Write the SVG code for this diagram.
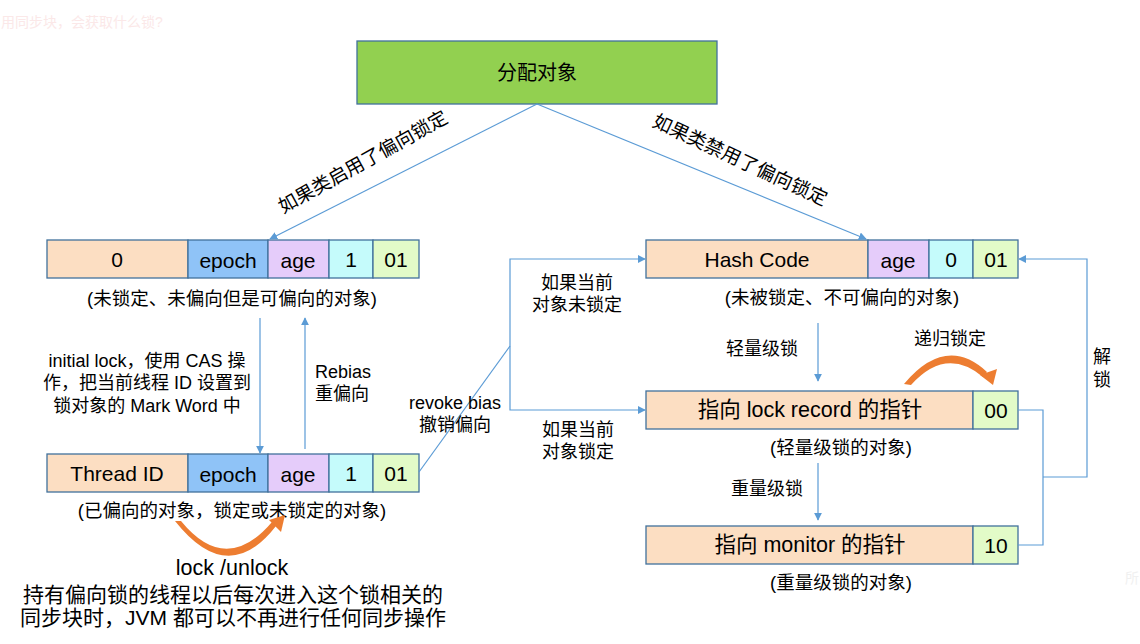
<svg xmlns="http://www.w3.org/2000/svg" width="1140" height="644" viewBox="0 0 1140 644">
<defs>
<style>
text{font-family:"Liberation Sans","Noto Sans CJK SC",sans-serif;fill:#000;text-anchor:middle;dominant-baseline:central}
.cell{stroke:#41719C;stroke-width:1.3}
.peach{fill:#FCDEC2}.blue{fill:#8FC3F7}.lav{fill:#E5CCFA}.cyan{fill:#C5FBFB}.lg{fill:#E2FBC8}
.ct{font-size:21px}
.lb{font-size:18.5px}
.sm{font-size:18px}
.con{fill:none;stroke:#5B9BD5;stroke-width:1.2}
.orange{fill:#ED7D31}
</style>
<marker id="ah" viewBox="0 0 10 10" refX="9" refY="5" markerWidth="8" markerHeight="8" markerUnits="userSpaceOnUse" orient="auto">
<path d="M0,0 L10,5 L0,10 z" fill="#5B9BD5"/>
</marker>
</defs>
<rect width="1140" height="644" fill="#fff"/>
<text x="1" y="22" style="font-size:14px;fill:#FBE8E8;text-anchor:start">用同步块，会获取什么锁?</text>
<text x="1132" y="578" style="font-size:14px;fill:#F0F0F0">所</text>

<g id="alloc">
<rect class="cell" x="357" y="41" width="360" height="63" fill="#92D050"/>
<text x="537" y="73" style="font-size:20px">分配对象</text>
</g>

<g id="unlocked-biasable">
<rect class="cell peach" x="47" y="240" width="141" height="38"/>
<rect class="cell blue" x="188" y="240" width="80" height="38"/>
<rect class="cell lav" x="268" y="240" width="61" height="38"/>
<rect class="cell cyan" x="329" y="240" width="44" height="38"/>
<rect class="cell lg" x="373" y="240" width="46" height="38"/>
<text class="ct" x="117" y="259">0</text>
<text class="ct" x="228" y="260">epoch</text>
<text class="ct" x="298" y="260">age</text>
<text class="ct" x="351" y="259">1</text>
<text class="ct" x="396" y="259">01</text>
<text class="lb" x="232" y="298">(未锁定、未偏向但是可偏向的对象)</text>
</g>

<g id="biased">
<rect class="cell peach" x="47" y="454" width="141" height="38"/>
<rect class="cell blue" x="188" y="454" width="80" height="38"/>
<rect class="cell lav" x="268" y="454" width="61" height="38"/>
<rect class="cell cyan" x="329" y="454" width="44" height="38"/>
<rect class="cell lg" x="373" y="454" width="46" height="38"/>
<text class="ct" x="117" y="473">Thread ID</text>
<text class="ct" x="228" y="474">epoch</text>
<text class="ct" x="298" y="474">age</text>
<text class="ct" x="351" y="473">1</text>
<text class="ct" x="396" y="473">01</text>
<text class="lb" x="232" y="510">(已偏向的对象，锁定或未锁定的对象)</text>
</g>

<g id="unbiasable">
<rect class="cell peach" x="646" y="240" width="222" height="38"/>
<rect class="cell lav" x="868" y="240" width="61" height="38"/>
<rect class="cell cyan" x="929" y="240" width="44" height="38"/>
<rect class="cell lg" x="973" y="240" width="45" height="38"/>
<text class="ct" x="757" y="259">Hash Code</text>
<text class="ct" x="898" y="260">age</text>
<text class="ct" x="951" y="259">0</text>
<text class="ct" x="996" y="259">01</text>
<text class="lb" x="842" y="297">(未被锁定、不可偏向的对象)</text>
</g>

<g id="lightweight">
<rect class="cell peach" x="646" y="391" width="327" height="38"/>
<rect class="cell lg" x="973" y="391" width="45" height="38"/>
<text class="ct" x="810" y="410" style="font-size:21.5px">指向 lock record 的指针</text>
<text class="ct" x="996" y="410">00</text>
<text class="lb" x="841" y="447">(轻量级锁的对象)</text>
</g>

<g id="heavyweight">
<rect class="cell peach" x="646" y="526" width="327" height="38"/>
<rect class="cell lg" x="973" y="526" width="45" height="38"/>
<text class="ct" x="810" y="545" style="font-size:21.5px">指向 monitor 的指针</text>
<text class="ct" x="996" y="545">10</text>
<text class="lb" x="841" y="582">(重量级锁的对象)</text>
</g>

<g id="connectors">
<line class="con" x1="537" y1="104" x2="270" y2="239" marker-end="url(#ah)"/>
<line class="con" x1="537" y1="104" x2="866" y2="239" marker-end="url(#ah)"/>
<line class="con" x1="260" y1="318" x2="260" y2="453" marker-end="url(#ah)"/>
<line class="con" x1="305" y1="449" x2="305" y2="318" marker-end="url(#ah)"/>
<polyline class="con" points="419,472 510,346"/>
<polyline class="con" points="510,346 510,259 645,259" marker-end="url(#ah)"/>
<polyline class="con" points="510,346 510,410 645,410" marker-end="url(#ah)"/>
<line class="con" x1="818" y1="323" x2="818" y2="381" marker-end="url(#ah)"/>
<line class="con" x1="818" y1="463" x2="818" y2="520" marker-end="url(#ah)"/>
<polyline class="con" points="1018,410 1043,410 1043,545 1018,545"/>
<polyline class="con" points="1043,477 1087,477 1087,259 1019,259" marker-end="url(#ah)"/>
</g>

<g id="labels">
<text transform="translate(363,162) rotate(-29)" style="font-size:19px">如果类启用了偏向锁定</text>
<text transform="translate(740,160) rotate(25)" style="font-size:19px">如果类禁用了偏向锁定</text>
<text class="sm" x="147" y="361">initial lock，使用 CAS 操</text>
<text class="sm" x="147" y="383">作，把当前线程 ID 设置到</text>
<text class="sm" x="147" y="406">锁对象的 Mark Word 中</text>
<text class="sm" x="315" y="372" style="text-anchor:start">Rebias</text>
<text class="sm" x="315" y="394" style="text-anchor:start">重偏向</text>
<text class="sm" x="455" y="403">revoke bias</text>
<text class="sm" x="455" y="425">撤销偏向</text>
<text class="sm" x="577" y="283">如果当前</text>
<text class="sm" x="577" y="305">对象未锁定</text>
<text class="sm" x="578" y="430">如果当前</text>
<text class="sm" x="578" y="452">对象锁定</text>
<text class="sm" x="762" y="349">轻量级锁</text>
<text class="sm" x="767" y="489">重量级锁</text>
<text class="sm" x="950" y="339">递归锁定</text>
<text class="sm" x="1102" y="357">解</text>
<text class="sm" x="1102" y="380">锁</text>
<text x="232" y="568" style="font-size:21.5px">lock /unlock</text>
<text x="233" y="594" style="font-size:21px">持有偏向锁的线程以后每次进入这个锁相关的</text>
<text x="233" y="617" style="font-size:21px">同步块时，JVM 都可以不再进行任何同步操作</text>
</g>

<g id="orange-arcs">
<path class="orange" d="M175,521 Q228,588 276,526 L272,522 Q226,576 181,521 Z"/>
<polygon class="orange" points="285,515 269,520 281,532"/>
<path class="orange" d="M904,384 Q946,334 987,372 L983,377 Q946,346 911,385 Z"/>
<polygon class="orange" points="993,385 980,375 997,369"/>
</g>
</svg>
